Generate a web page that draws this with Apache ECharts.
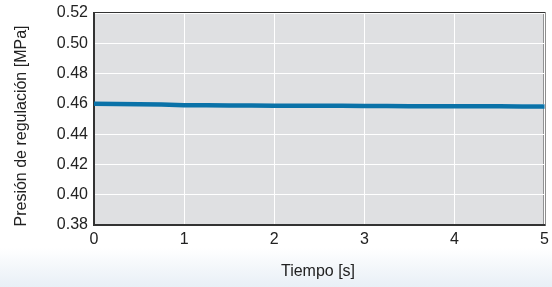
<!DOCTYPE html>
<html><head><meta charset="utf-8">
<script src="https://cdn.jsdelivr.net/npm/echarts@6/dist/echarts.min.js"></script>
<style>html,body{margin:0;padding:0;background:#fff}#c{width:552px;height:287px}</style>
</head><body><div id="c"></div>
<script>
var timeS = [0,0.25,0.5,0.75,1,1.25,1.5,1.75,2,2.25,2.5,2.75,3,3.25,3.5,3.75,4,4.25,4.5,4.75,5];
var pressure = [0.4600,0.4599,0.4598,0.4595,0.4591,0.4590,0.4589,0.4589,0.4588,0.4588,0.4587,0.4587,0.4586,0.4586,0.4585,0.4585,0.4584,0.4584,0.4584,0.4583,0.4583];
var yTicks = [0.38,0.40,0.42,0.44,0.46,0.48,0.50,0.52];
var xTicks = [0,1,2,3,4,5];
var yTitle = 'Presión de regulación [MPa]';
var xTitle = 'Tiempo [s]';

var chart = echarts.init(document.getElementById('c'));
var font = 'Liberation Sans, Arial, sans-serif';
chart.setOption({
  animation:false,
  graphic:[
    {type:'rect',x:0,y:248,shape:{width:552,height:39},z:-10,
     style:{fill:new echarts.graphic.LinearGradient(0,0,0,1,[{offset:0,color:'rgba(255,255,255,1)'},{offset:1,color:'#e8eff6'}])}},
    {type:'text',x:22,y:126,rotation:Math.PI/2,
     style:{text:yTitle,font:'16px '+font,fill:'#222',textAlign:'center',textVerticalAlign:'middle'}},
    {type:'text',x:318,y:272,style:{text:xTitle,font:'16px '+font,fill:'#222',textAlign:'center',textVerticalAlign:'middle'}}
  ],
  grid:{left:94,right:5,top:13,bottom:62,show:true,backgroundColor:'#dfe0e2',borderColor:'#333',borderWidth:2},
  xAxis:{type:'value',min:0,max:5,interval:1,
    axisLine:{show:true,lineStyle:{color:'#333',width:2}},axisTick:{show:false},
    splitLine:{show:true,lineStyle:{color:'#fff',width:1}},
    axisLabel:{color:'#222',fontSize:16,fontFamily:font,margin:7}},
  yAxis:{type:'value',min:0.38,max:0.52,interval:0.02,
    axisLine:{show:true,lineStyle:{color:'#333',width:2}},axisTick:{show:false},
    splitLine:{show:true,lineStyle:{color:'#fff',width:1}},
    axisLabel:{color:'#222',fontSize:16,fontFamily:font,margin:6,padding:[5,0,0,0],
      formatter:function(v){return v.toFixed(2);}}},
  series:[{type:'line',data:timeS.map(function(t,i){return [t,pressure[i]];}),
    showSymbol:false,lineStyle:{color:'#0a72a8',width:4.5},z:5}]
});
</script></body></html>
